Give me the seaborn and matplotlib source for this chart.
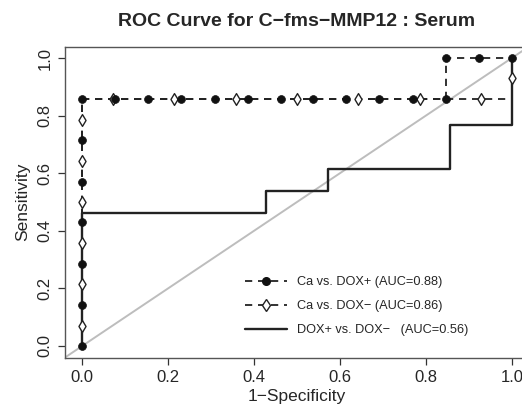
import matplotlib
matplotlib.use("Agg")
import matplotlib.pyplot as plt
import seaborn as sns
import pandas as pd
from matplotlib.lines import Line2D

# ---- data ----
# Ca vs. DOX+ (filled circles, dashed)
cap_x = [0, 0, 0, 0, 0, 0, 0, 0.077, 0.154, 0.231, 0.308, 0.385, 0.462, 0.538,
         0.615, 0.692, 0.769, 0.846, 0.846, 0.923, 1.0]
cap_y = [0, 0.143, 0.286, 0.429, 0.571, 0.714, 0.857, 0.857, 0.857, 0.857, 0.857,
         0.857, 0.857, 0.857, 0.857, 0.857, 0.857, 0.857, 1.0, 1.0, 1.0]
# Ca vs. DOX- (open diamonds, dashed)
cam_x = [0, 0, 1.0, 1.0]
cam_y = [0, 0.857, 0.857, 1.0]
cam_mx = [0, 0, 0, 0, 0, 0, 0.071, 0.214, 0.357, 0.5, 0.643, 0.786, 0.929, 1.0]
cam_my = [0.071, 0.214, 0.357, 0.5, 0.643, 0.786, 0.857, 0.857, 0.857, 0.857,
          0.857, 0.857, 0.857, 0.929]
# DOX+ vs. DOX- (solid)
dd_x = [0, 0, 0.429, 0.429, 0.571, 0.571, 0.857, 0.857, 1.0, 1.0]
dd_y = [0, 0.462, 0.462, 0.538, 0.538, 0.615, 0.615, 0.769, 0.769, 1.0]

labels = ["Ca vs. DOX+ (AUC=0.88)", "Ca vs. DOX\u2212 (AUC=0.86)",
          "DOX+ vs. DOX\u2212   (AUC=0.56)"]
ticks = [0.0, 0.2, 0.4, 0.6, 0.8, 1.0]
tick_labels = ["0.0", "0.2", "0.4", "0.6", "0.8", "1.0"]

sns.set_style("white")
plt.rcParams['font.family'] = ['Liberation Sans', 'DejaVu Sans']

fig = plt.figure(figsize=(5.22, 4.08), dpi=100)
ax = fig.add_axes([65 / 522, 1 - 357.5 / 408, (529 - 65) / 522, (357.5 - 46.5) / 408])

# diagonal reference
ax.plot([-0.1, 1.1], [-0.1, 1.1], color="#bdbdbd", lw=1.4, zorder=1)

dash = (4, 3.2)
df1 = pd.DataFrame({"x": cap_x, "y": cap_y})
df2 = pd.DataFrame({"x": cam_x, "y": cam_y})
df2m = pd.DataFrame({"x": cam_mx, "y": cam_my})
df3 = pd.DataFrame({"x": dd_x, "y": dd_y})

sns.lineplot(data=df3, x="x", y="y", sort=False, estimator=None, color="#222222",
             lw=1.7, ax=ax, zorder=2)
sns.lineplot(data=df2, x="x", y="y", sort=False, estimator=None, color="#222222",
             lw=1.3, ax=ax, zorder=3)
ax.lines[-1].set_dashes(dash)
sns.lineplot(data=df1, x="x", y="y", sort=False, estimator=None, color="#222222",
             lw=1.3, ax=ax, zorder=3)
ax.lines[-1].set_dashes(dash)
sns.scatterplot(data=df2m, x="x", y="y", marker="d", s=36, facecolor="white",
                edgecolor="#222222", linewidth=1.0, ax=ax, zorder=4)
sns.scatterplot(data=df1, x="x", y="y", marker="o", s=32, color="#111111",
                edgecolor="#111111", linewidth=0.5, ax=ax, zorder=5)

ax.set_xlim(-0.04, 1.04)
ax.set_ylim(-0.04, 1.04)
ax.set_xticks(ticks)
ax.set_xticklabels(tick_labels)
ax.set_yticks(ticks)
ax.set_yticklabels(tick_labels, rotation=90, va="center")
ax.tick_params(axis="both", direction="out", length=5, width=0.9, color="#333333",
               labelsize=12, pad=4, bottom=True, left=True)
for s in ax.spines.values():
    s.set_color("#555555")
    s.set_linewidth(1.0)

ax.set_xlabel("1\u2212Specificity", fontsize=12.5, labelpad=3)
ax.set_ylabel("Sensitivity", fontsize=12.5, labelpad=5)
fig.text(297 / 522, 1 - 22 / 408, "ROC Curve for C\u2212fms\u2212MMP12 : Serum",
         ha="center", va="center", fontsize=14, fontweight="bold")

h1 = Line2D([], [], color="#222222", lw=1.3, dashes=dash, marker="o", markersize=5.5,
            markerfacecolor="#111111", markeredgecolor="#111111")
h2 = Line2D([], [], color="#222222", lw=1.3, dashes=dash, marker="d", markersize=6,
            markerfacecolor="white", markeredgecolor="#222222")
h3 = Line2D([], [], color="#222222", lw=1.7)
ax.legend([h1, h2, h3], labels, loc="upper left",
          bbox_to_anchor=((245 - 65) / 464, (357.5 - 276) / 311), frameon=False,
          fontsize=9.2, handlelength=3.3, handletextpad=0.75, labelspacing=0.95,
          borderaxespad=0, borderpad=0)

fig.savefig("out.png", dpi=100)
